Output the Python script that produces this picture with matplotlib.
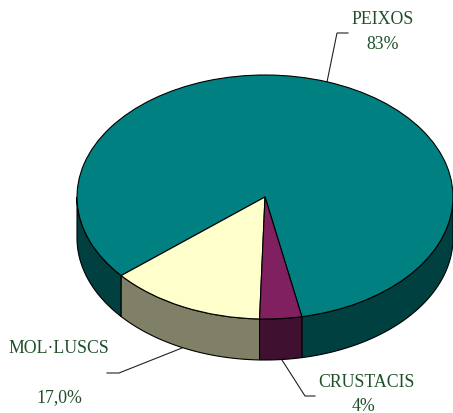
import numpy as np
import matplotlib
matplotlib.use("Agg")
import matplotlib.pyplot as plt
from matplotlib.patches import Polygon

categories = ["PEIXOS", "MOL·LUSCS", "CRUSTACIS"]
drawn_shares = [83.0, 13.4, 3.6]
value_labels = ["83%", "17,0%", "4%"]
top_colors = ["#008080", "#FFFFCC", "#802060"]
side_colors = ["#004040", "#808066", "#401030"]
text_color = "#1F4F2A"

W, H = 453, 414
cx, cy, rx, ry, depth = 265, 197, 188, 122, 41
k = rx / ry  # vertical stretch of data units

plt.rcParams["font.family"] = ["Liberation Serif", "DejaVu Serif"]
fig = plt.figure(figsize=(W / 100, H / 100), dpi=100, facecolor="white")
ax = fig.add_axes([0, 0, 1, 1])

def Y(py):
    return (H - py - 1) * k

wedges, _ = ax.pie(drawn_shares, colors=top_colors, startangle=281.3,
                   center=(cx, Y(cy)), radius=rx, counterclock=True,
                   wedgeprops=dict(edgecolor="black", linewidth=0.8, zorder=5))
ax.set_aspect("auto")
ax.set_xlim(0, W)
ax.set_ylim(0, H * k)
ax.axis("off")

# side wall: the part of each wedge's rim facing the viewer
for w, col in zip(wedges, side_colors):
    for lo, hi in [(w.theta1, w.theta2), (w.theta1 - 360, w.theta2 - 360)]:
        a, b = max(lo, 180), min(hi, 360)
        if b <= a:
            continue
        t = np.radians(np.linspace(a, b, 120))
        x = cx + rx * np.cos(t)
        yt = Y(cy) + rx * np.sin(t)
        yb = yt - depth * k
        pts = np.r_[np.c_[x, yt], np.c_[x, yb][::-1]]
        ax.add_patch(Polygon(pts, closed=True, facecolor=col, edgecolor="black",
                             linewidth=0.8, zorder=4))

def leader(xs, ys):
    ax.plot(xs, [Y(v) for v in ys], color="#222222", lw=0.8, zorder=3,
            solid_joinstyle="miter")

leader([348, 337, 327], [33, 33, 82])
leader([107, 119, 182], [373, 373, 348])
leader([282, 305, 315], [360, 396, 396])

def label(x, y, s):
    ax.text(x, Y(y), s, color=text_color, fontsize=12.8, ha="center", va="center", zorder=6)

label(383, 19, categories[0]); label(383, 44, value_labels[0])
label(59, 348, categories[1]); label(59, 397, value_labels[1])
label(366, 382, categories[2]); label(364, 406, value_labels[2])

fig.savefig("out.png", dpi=100)
